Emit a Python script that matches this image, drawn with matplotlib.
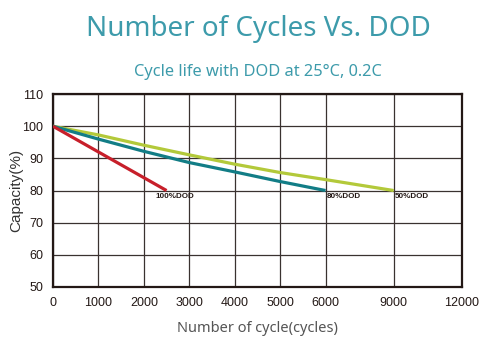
import numpy as np
import matplotlib
matplotlib.use("Agg")
import matplotlib.pyplot as plt

# data
x_ticks = [0, 1000, 2000, 3000, 4000, 5000, 6000, 9000, 12000]
tick_pos = [0, 1, 2, 3, 4, 5, 6, 7.5, 9]  # axis is not linear past 6000

dod100_x = [0, 2500]
dod100_y = [100, 80]
dod80_x = [0, 1000, 2000, 3000, 4000, 5000, 6000]
dod80_y = [100, 96.0, 92.2, 88.7, 85.8, 82.8, 80]
dod50_x = [0, 1000, 2000, 3000, 4000, 5000, 6000, 9000]
dod50_y = [100, 97.3, 94.1, 91.1, 88.2, 85.6, 83.4, 80]

y_ticks = [50, 60, 70, 80, 90, 100, 110]


def fwd(x):
    return np.interp(x, x_ticks, tick_pos)


def inv(p):
    return np.interp(p, tick_pos, x_ticks)


plt.rcParams["font.family"] = ["Liberation Sans", "DejaVu Sans"]
teal_title = "#3d9bab"
fig = plt.figure(figsize=(4.92, 3.52), dpi=100)
ax = fig.add_axes([0.1077, 0.1847, 0.831, 0.548])
ax.set_xscale("function", functions=(fwd, inv))

ax.plot(dod50_x, dod50_y, color="#b3c93a", lw=2.3, solid_capstyle="butt", zorder=3)
ax.plot(dod80_x, dod80_y, color="#127d86", lw=2.3, solid_capstyle="butt", zorder=4)
ax.plot(dod100_x, dod100_y, color="#c71f2a", lw=2.3, solid_capstyle="butt", zorder=5)

lab = dict(fontsize=5.8, fontweight="bold", color="#231815", va="top")
ax.text(2500 - 250, 79.3, "100%DOD", **lab)
ax.text(6000 + 60, 79.3, "80%DOD", **lab)
ax.text(9000 + 30, 79.3, "50%DOD", **lab)

ax.set_xlim(0, 12000)
ax.set_ylim(50, 110)
ax.set_xticks(x_ticks)
ax.set_yticks(y_ticks)
ax.tick_params(length=0, labelsize=9, colors="#231815", pad=7)
ax.grid(True, color="#3a3230", lw=0.9)
for s in ax.spines.values():
    s.set_linewidth(1.6)
    s.set_color("#231815")

ax.set_ylabel("Capacity(%)", fontsize=11, color="#333333", labelpad=-1)
ax.set_xlabel("Number of cycle(cycles)", fontsize=10.5, color="#555555", labelpad=9,
              family="Noto Sans")

fig.text(0.525, 0.917, "Number of Cycles Vs. DOD", ha="center", va="center",
         fontsize=20, color=teal_title, family="Noto Sans")
fig.text(0.525, 0.795, "Cycle life with DOD at 25°C, 0.2C", ha="center", va="center",
         fontsize=11.8, color=teal_title, family="Noto Sans")

fig.savefig("out.png", dpi=100, facecolor="white")
